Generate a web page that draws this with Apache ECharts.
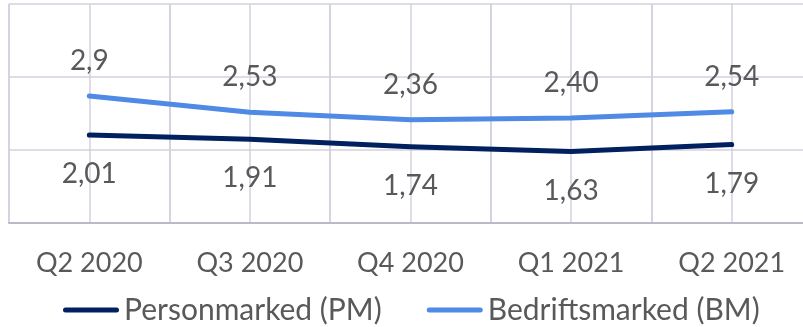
<!DOCTYPE html>
<html>
<head>
<meta charset="utf-8">
<script src="https://cdn.jsdelivr.net/npm/echarts@6/dist/echarts.min.js"></script>
<style>
  html, body { margin: 0; padding: 0; background: #ffffff; overflow: hidden; }
  /* canvas runs 9px past the right edge so the last column is cropped */
  #chart { width: 812px; height: 327px; }
</style>
</head>
<body>
<div id="chart"></div>
<script>
// Quarters shown on the category axis
const quarters = ['Q2 2020', 'Q3 2020', 'Q4 2020', 'Q1 2021', 'Q2 2021'];
// Values per market segment
const personmarked = [2.01, 1.91, 1.74, 1.63, 1.79];
const bedriftsmarked = [2.9, 2.53, 2.36, 2.40, 2.54];
// Printed labels (Norwegian decimal comma, as written)
const personLabels = ['2,01', '1,91', '1,74', '1,63', '1,79'];
const bedriftLabels = ['2,9', '2,53', '2,36', '2,40', '2,54'];

const FONT = 'Lato, "Open Sans", sans-serif';
const GRID = '#d3d1de';
const BORDER = '#bab8c9';

const chart = echarts.init(document.getElementById('chart'), null, { renderer: 'canvas' });

const legendIcon = 'path://M2.5,0 H53.5 A2.5,2.5 0 0 1 53.5,5 H2.5 A2.5,2.5 0 0 1 2.5,0 Z';

chart.setOption({
  animation: false,
  backgroundColor: '#ffffff',
  grid: { left: 9, top: 4, right: 0, bottom: 104, containLabel: false },
  legend: {
    left: 63,
    top: 295,
    padding: 0,
    itemWidth: 56,
    itemHeight: 5,
    itemGap: 45,
    textStyle: { fontFamily: FONT, fontSize: 30, lineHeight: 30, color: '#595959' },
    data: [
      { name: 'Personmarked (PM)', icon: legendIcon },
      { name: 'Bedriftsmarked (BM)', icon: legendIcon }
    ]
  },
  xAxis: [
    {
      type: 'category',
      data: quarters,
      boundaryGap: true,
      axisLine: { show: true, lineStyle: { color: BORDER, width: 2 } },
      axisTick: { show: false },
      splitLine: { show: true, lineStyle: { color: GRID, width: 1.5 } },
      axisLabel: { fontFamily: FONT, fontSize: 27, color: '#595959', margin: 27 }
    },
    {
      // finer vertical rules through each category centre
      type: 'value',
      min: 0,
      max: 10,
      interval: 1,
      position: 'bottom',
      axisLine: { show: false },
      axisTick: { show: false },
      axisLabel: { show: false },
      splitLine: { show: true, lineStyle: { color: GRID, width: 1.5 } }
    }
  ],
  yAxis: {
    type: 'value',
    min: 0,
    max: 5,
    interval: 5 / 3,
    axisLine: { show: false },
    axisTick: { show: false },
    axisLabel: { show: false },
    splitLine: { show: true, lineStyle: { color: GRID, width: 1.5 } }
  },
  series: [
    {
      name: 'Personmarked (PM)',
      type: 'line',
      data: personmarked,
      xAxisIndex: 0,
      symbol: 'circle',
      symbolSize: 0,
      showSymbol: true,
      smooth: false,
      z: 3,
      lineStyle: { color: '#002060', width: 5, cap: 'round', join: 'round' },
      itemStyle: { color: '#002060' },
      label: {
        show: true,
        position: 'bottom',
        distance: 25,
        fontFamily: FONT,
        fontSize: 28,
        lineHeight: 28,
        color: '#595959',
        formatter: p => personLabels[p.dataIndex]
      }
    },
    {
      name: 'Bedriftsmarked (BM)',
      type: 'line',
      data: bedriftsmarked,
      xAxisIndex: 0,
      symbol: 'circle',
      symbolSize: 0,
      showSymbol: true,
      smooth: false,
      z: 3,
      lineStyle: { color: '#4f8ae4', width: 5, cap: 'round', join: 'round' },
      itemStyle: { color: '#4f8ae4' },
      label: {
        show: true,
        position: 'top',
        distance: 21,
        fontFamily: FONT,
        fontSize: 28,
        lineHeight: 28,
        color: '#595959',
        formatter: p => bedriftLabels[p.dataIndex]
      }
    }
  ]
});
</script>
</body>
</html>
